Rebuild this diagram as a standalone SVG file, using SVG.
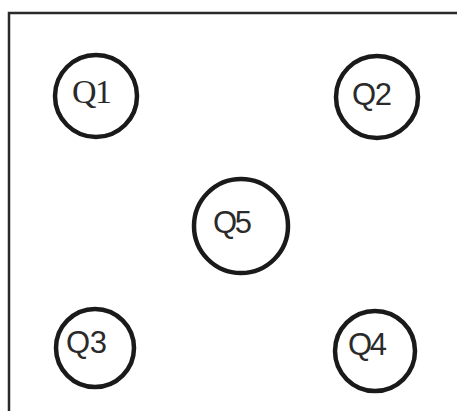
<svg xmlns="http://www.w3.org/2000/svg" width="457" height="411" viewBox="0 0 457 411">
<style>
.node circle{fill:none;stroke:#1a1a1a;stroke-width:4.5}
.node text{font-family:"Liberation Sans",Arial,sans-serif;font-size:31px;fill:#2a2a2a}
.node text.serif{font-family:"Liberation Serif","Times New Roman",serif;font-size:34px}
.frame{fill:none;stroke:#2a2a2a;stroke-width:2.5}
</style>
<rect width="457" height="411" fill="#ffffff"/>
<path class="frame" d="M9,411 V13 H457"/>
<g id="connectors"></g>
<g id="Q1" class="node"><circle cx="96" cy="96" r="41"/><text class="serif" x="72" y="103" textLength="40">Q1</text></g>
<g id="Q2" class="node"><circle cx="377" cy="97" r="41"/><text x="352" y="105" textLength="40">Q2</text></g>
<g id="Q5" class="node"><circle cx="241" cy="226" r="47"/><text x="213" y="233" textLength="39">Q5</text></g>
<g id="Q3" class="node"><circle cx="95" cy="348" r="39"/><text x="66" y="353" textLength="41">Q3</text></g>
<g id="Q4" class="node"><circle cx="375" cy="351" r="40"/><text x="348" y="355" textLength="39">Q4</text></g>
</svg>
